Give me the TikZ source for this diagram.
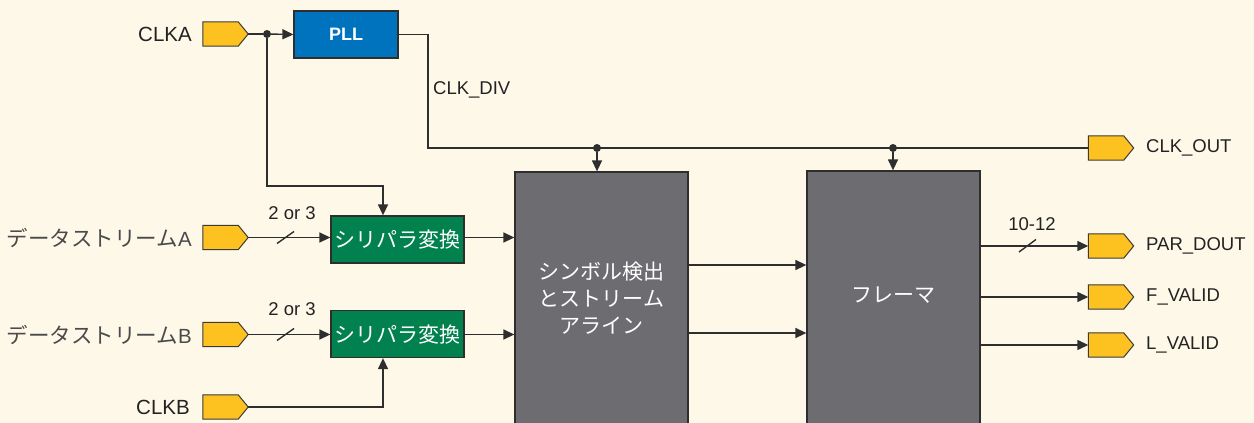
\documentclass[tikz,border=0pt]{standalone}
\usepackage{fontspec}
\setmainfont{Liberation Sans}
\newfontfamily\cjk{Noto Sans CJK JP}
\usetikzlibrary{calc,arrows.meta}
\definecolor{bgc}{HTML}{FEF8E9}
\definecolor{linec}{HTML}{2E2E2E}
\definecolor{porty}{HTML}{FDC21F}
\definecolor{portb}{HTML}{3A3A3A}
\definecolor{greenc}{HTML}{00814E}
\definecolor{bluec}{HTML}{0073BE}
\definecolor{grayc}{HTML}{6D6C71}
\definecolor{txtc}{HTML}{222222}
\definecolor{jpc}{HTML}{4A4A4A}
\begin{document}
\begin{tikzpicture}[x=1pt,y=-1pt,
  wire/.style={draw=linec, line width=1.4pt},
  arr/.style={wire, -{Triangle[length=11pt,width=10pt]}},
  port/.style={rectangle, minimum width=45pt, minimum height=24pt, inner sep=0pt},
  portshape/.style={draw=portb, fill=porty, line width=1pt, line join=miter},
  jdot/.style={circle, fill=linec, inner sep=0pt, minimum size=8pt},
  blk/.style={draw=linec, line width=1.3pt, inner sep=0pt},
  lab/.style={text=txtc, font=\fontsize{18.5}{22}\selectfont, inner sep=0pt},
  biglab/.style={text=txtc, font=\fontsize{20.5}{24}\selectfont, inner sep=0pt},
  jplab/.style={text=jpc, font=\fontsize{20.5}{24}\selectfont, inner sep=0pt},
  boxtxt/.style={text=white, font=\cjk\fontsize{21}{27}\selectfont, align=center, inner sep=0pt}
]
\fill[bgc] (0,0) rectangle (1254,423);
\clip (0,0) rectangle (1254,423);

% ports
\node[port] (clka) at (225.5,34) {};
\node[port] (da) at (225.5,237.5) {};
\node[port] (db) at (225.5,334.5) {};
\node[port] (clkb) at (225.5,407) {};
\node[port] (clkout) at (1111,148) {};
\node[port] (pd) at (1111,246) {};
\node[port] (fv) at (1111,297) {};
\node[port] (lv) at (1111,345) {};
\foreach \n in {clka,da,db,clkb,clkout,pd,fv,lv}
  \draw[portshape] (\n.north west) -- ($(\n.north east)+(-10,0)$) -- (\n.east)
    -- ($(\n.south east)+(-10,0)$) -- (\n.south west) -- cycle;

% port labels
\node[biglab, anchor=east] (tclka) at (192,34) {CLKA};
\node[jplab, anchor=east] (tda) at (192,237.5) {{\cjk\fontsize{21.5}{24}\selectfont データストリーム}A};
\node[jplab, anchor=east] (tdb) at (192,334.5) {{\cjk\fontsize{21.5}{24}\selectfont データストリーム}B};
\node[biglab, anchor=east] (tclkb) at (190,407) {CLKB};
\node[lab, anchor=west] (tclkout) at (1146,148) {CLK\_OUT};
\node[lab, anchor=west] (tpd) at (1146,246) {PAR\_DOUT};
\node[lab, anchor=west] (tfv) at (1146,297) {F\_VALID};
\node[lab, anchor=west] (tlv) at (1146,345) {L\_VALID};

% blocks
\node[blk, fill=bluec, minimum width=104pt, minimum height=47pt, text=white,
  font=\bfseries\fontsize{18}{22}\selectfont] (pll) at (346,34.5) {PLL};
\node[blk, fill=greenc, minimum width=133pt, minimum height=47pt] (spa) at (397.5,239.5) {};
\node[boxtxt] (tspa) at (397.5,240) {シリパラ変換};
\node[blk, fill=greenc, minimum width=133pt, minimum height=47pt] (spb) at (397.5,334) {};
\node[boxtxt] (tspb) at (397.5,334.5) {シリパラ変換};
\node[blk, fill=grayc, minimum width=173pt, minimum height=262pt] (sym) at (601.5,303) {};
\node[boxtxt] (tsym) at (601.5,298.5) {シンボル検出\\とストリーム\\アライン};
\node[blk, fill=grayc, minimum width=173pt, minimum height=262pt] (frm) at (893.5,302) {};
\node[boxtxt] (tfrm) at (893.5,295) {フレーマ};

% junctions and coordinates
\node[jdot] (j1) at (267,34) {};
\node[jdot] (j2) at (597,148) {};
\node[jdot] (j3) at (893,148) {};
\coordinate (ka) at (383,186);
\coordinate (kb) at (383,407);
\coordinate (cd) at (428,148);
\coordinate (o1) at (0,265);
\coordinate (o2) at (0,333);

% CLKA / PLL
\draw[wire] (clka.east) -- (j1);
\draw[arr] (j1) -- (pll.west);
\draw[arr] (j1) |- (ka) -- (ka |- spa.north);
\draw[wire] (pll.east) -| (cd) -- (clkout.west);
\node[lab, anchor=west] (tcd) at (433,90) {CLK\_DIV};
\draw[arr] (j2) -- (j2 |- sym.north);
\draw[arr] (j3) -- (j3 |- frm.north);

% data inputs
\draw[arr] (da.east) -- (da.east -| spa.west);
\draw[arr] (db.east) -- (db.east -| spb.west);
\draw[wire] (277,243.5) -- (294,231.5);
\draw[wire] (277,340.5) -- (294,328.5);
\node[lab] (w1) at (292,213) {2 or 3};
\node[lab] (w2) at (292,309) {2 or 3};
\draw[arr] (clkb.east) -- (kb) -- (kb |- spb.south);

% to symbol block
\draw[arr] (da.east -| spa.east) -- (da.east -| sym.west);
\draw[arr] (db.east -| spb.east) -- (db.east -| sym.west);

% symbol to framer
\draw[arr] (o1 -| sym.east) -- (o1 -| frm.west);
\draw[arr] (o2 -| sym.east) -- (o2 -| frm.west);

% framer outputs
\draw[arr] (pd.west -| frm.east) -- (pd.west);
\draw[arr] (fv.west -| frm.east) -- (fv.west);
\draw[arr] (lv.west -| frm.east) -- (lv.west);
\draw[wire] (1019,252) -- (1036,239.5);
\node[lab] (w3) at (1032,224) {10-12};
\end{tikzpicture}
\end{document}
